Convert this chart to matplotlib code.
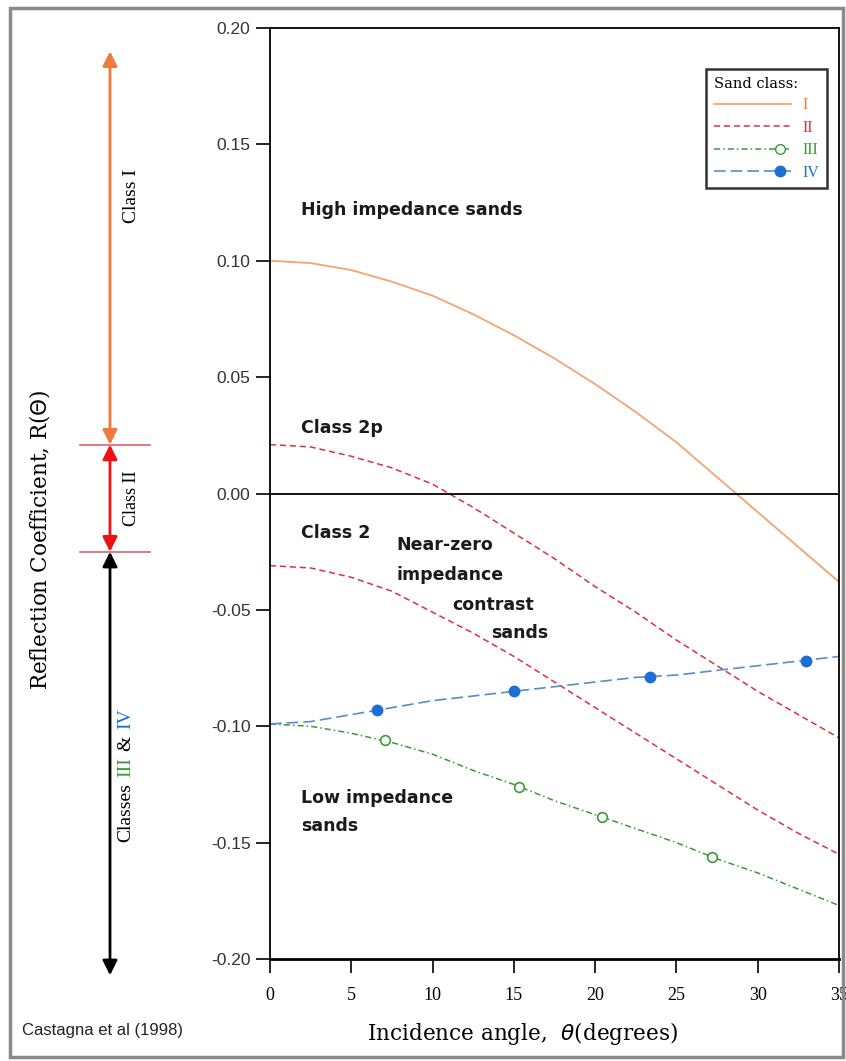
"""
AVO sand classes: reflection coefficient vs incidence angle (after Castagna et al, 1998)
"""
import numpy as np
import matplotlib
matplotlib.use('Agg')
import matplotlib.pyplot as plt
import matplotlib.transforms as mtransforms
from matplotlib.legend_handler import HandlerLine2D
from matplotlib.lines import Line2D
from matplotlib.patches import Rectangle

# values
angles = [0, 2.5, 5, 7.5, 10, 12.5, 15, 17.5, 20, 22.5, 25, 27.5, 30, 32.5, 35]
refl_I = [0.100, 0.099, 0.096, 0.091, 0.085, 0.077, 0.068, 0.058, 0.047,
          0.035, 0.022, 0.007, -0.008, -0.023, -0.038]
refl_2p = [0.021, 0.020, 0.016, 0.011, 0.004, -0.006, -0.017, -0.028, -0.040,
           -0.051, -0.063, -0.074, -0.085, -0.095, -0.105]
refl_2 = [-0.031, -0.032, -0.036, -0.042, -0.051, -0.060, -0.070, -0.081, -0.092,
          -0.103, -0.114, -0.125, -0.136, -0.146, -0.155]
refl_III = [-0.099, -0.100, -0.103, -0.107, -0.112, -0.119, -0.125, -0.132, -0.138,
            -0.144, -0.150, -0.157, -0.163, -0.170, -0.177]
refl_IV = [-0.099, -0.098, -0.095, -0.092, -0.089, -0.087, -0.085, -0.083, -0.081,
           -0.079, -0.078, -0.076, -0.074, -0.072, -0.070]

marker_angles_III = [7.1, 15.3, 20.4, 27.2]
marker_refl_III = [-0.106, -0.126, -0.139, -0.156]
marker_angles_IV = [6.6, 15.0, 23.4, 33.0]
marker_refl_IV = [-0.093, -0.085, -0.079, -0.072]

# class ranges shown by the arrows on the left
class_I_range = [0.19, 0.021]
class_II_range = [0.021, -0.025]
class_III_IV_range = [-0.025, -0.207]

x_ticks = [0, 5, 10, 15, 20, 25, 30, 35]
y_ticks = [-0.20, -0.15, -0.10, -0.05, 0.0, 0.05, 0.10, 0.15, 0.20]

legend_labels = ['I', 'II', 'III', 'IV']

ORANGE_LINE = '#F4A373'
ORANGE = '#F07A3A'
RED = '#E0303E'
GREEN = '#3A9A3A'
BLUE_LINE = '#5A8CC8'
BLUE = '#1E6ED8'

SERIF = 'Liberation Serif'
WIDE_SERIF = 'DejaVu Serif'
SANS = 'Liberation Sans'


class EndMarkerHandler(HandlerLine2D):
    """Legend handle with the marker near the right end of the line"""
    def create_artists(self, legend, orig_handle, xdescent, ydescent,
                       width, height, fontsize, trans):
        artists = super().create_artists(legend, orig_handle, xdescent, ydescent,
                                         width, height, fontsize, trans)
        line = artists[0]
        x = line.get_xdata()
        line.set_xdata([x[0], x[0] + 0.86 * (x[-1] - x[0]), x[-1]])
        return artists


fig = plt.figure(figsize=(8.46, 10.61), dpi=100)
ax = fig.add_axes([270 / 846, 1 - 959 / 1061, 569 / 846, 931 / 1061])

# curves
ax.plot(angles, refl_I, color=ORANGE_LINE, lw=1.3)
ax.plot(angles, refl_2p, color=RED, lw=1.1, dashes=(4, 2.5))
ax.plot(angles, refl_2, color=RED, lw=1.1, dashes=(4, 2.5))
ax.plot(angles, refl_III, color=GREEN, lw=1.1, dashes=(4, 2, 1, 2))
ax.plot(marker_angles_III, marker_refl_III, ls='none', marker='o', ms=7,
        mfc='white', mec=GREEN, mew=1.2)
ax.plot(angles, refl_IV, color=BLUE_LINE, lw=1.2, dashes=(7, 3))
ax.plot(marker_angles_IV, marker_refl_IV, ls='none', marker='o', ms=7.5,
        mfc=BLUE, mec=BLUE)

ax.axhline(0, color='black', lw=1.3)

ax.set_xlim(0, 35)
ax.set_ylim(-0.20, 0.20)
ax.set_xticks(x_ticks)
ax.set_xticklabels([str(v) for v in x_ticks], fontfamily=SERIF, fontsize=13)
ax.set_yticks(y_ticks)
ax.set_yticklabels([f'{v:.2f}' for v in y_ticks], fontfamily=SANS, fontsize=12.5,
                   color='#333333')
ax.tick_params(axis='x', direction='out', length=10, width=1.2, pad=10)
ax.tick_params(axis='y', direction='out', length=10, width=1.2, pad=4)
for side in ['left', 'right', 'top', 'bottom']:
    ax.spines[side].set_linewidth(1.3)
ax.spines['bottom'].set_linewidth(2)

ax.set_xlabel('Incidence angle,  $\\theta$(degrees)', fontfamily=WIDE_SERIF, fontsize=15.5)
ax.xaxis.set_label_coords(0.443, -0.065)
ax.set_ylabel('Reflection Coefficient, R($\\Theta$)', fontfamily=WIDE_SERIF, fontsize=15.5)
ax.yaxis.set_label_coords(-0.383, 0.45)

# annotations inside the plot
bold = dict(fontfamily='DejaVu Sans', fontweight='bold', fontsize=12.5,
            color='#1a1a1a', va='center', ha='left')
ax.text(1.9, 0.122, 'High impedance sands', **bold)
ax.text(1.9, 0.028, 'Class 2p', **bold)
ax.text(1.9, -0.017, 'Class 2', **bold)
ax.text(7.8, -0.022, 'Near-zero', **bold)
ax.text(7.8, -0.035, 'impedance', **bold)
ax.text(11.2, -0.048, 'contrast', **bold)
ax.text(13.6, -0.060, 'sands', **bold)
ax.text(1.9, -0.131, 'Low impedance', **bold)
ax.text(1.9, -0.143, 'sands', **bold)

# class arrows on the left, x in axes fraction, y in data
left = mtransforms.blended_transform_factory(ax.transAxes, ax.transData)
x_arrow = (110 - 270) / 569
x_label = (131 - 270) / 569
for rng, col in [(class_I_range, ORANGE), (class_II_range, '#EE1111'),
                 (class_III_IV_range, 'black')]:
    ax.annotate('', xy=(x_arrow, rng[0]), xytext=(x_arrow, rng[1]),
                xycoords=left, textcoords=left, annotation_clip=False,
                arrowprops=dict(arrowstyle='<|-|>', color=col, lw=2,
                                mutation_scale=22, shrinkA=0, shrinkB=0))
for yb in [class_II_range[0], class_II_range[1]]:
    ax.plot([(80 - 270) / 569, (150 - 270) / 569], [yb, yb], color='#E06070',
            lw=1.2, transform=left, clip_on=False)

ax.text(x_label, 0.128, 'Class I', rotation=90, ha='center', va='center',
        fontfamily=SERIF, fontsize=14, transform=left)
ax.text(x_label, -0.002, 'Class II', rotation=90, ha='center', va='center',
        fontfamily=SERIF, fontsize=13, transform=left)

# "Classes III & IV" with coloured numerals
pieces = [('Classes', 'black'), ('III', GREEN), ('&', 'black'), ('IV', BLUE)]
chain = []
for s, c in pieces:
    if not chain:
        t = ax.text(x_label - 0.01, -0.15, s, rotation=90, ha='center', va='bottom',
                    color=c, fontfamily=SERIF, fontsize=14, transform=left)
    else:
        t = ax.annotate(s, xy=(0.5, 1), xycoords=chain[-1], xytext=(0, 4.5),
                        textcoords='offset points', rotation=90, ha='center',
                        va='bottom', color=c, fontfamily=SERIF, fontsize=14)
    chain.append(t)

# legend
handles = [Line2D([], [], color=ORANGE_LINE, lw=1.3),
           Line2D([], [], color=RED, lw=1.1, dashes=(4, 2.5)),
           Line2D([], [], color=GREEN, lw=1.1, dashes=(4, 2, 1, 2), marker='o',
                  ms=7, mfc='white', mec=GREEN),
           Line2D([], [], color=BLUE_LINE, lw=1.2, dashes=(7, 3), marker='o',
                  ms=7.5, mfc=BLUE, mec=BLUE)]
leg = ax.legend(handles, legend_labels, title='Sand class:', loc='upper right',
                bbox_to_anchor=(0.979, 0.956), borderaxespad=0, numpoints=1,
                handlelength=4.8, handletextpad=0.7, labelspacing=0.4,
                borderpad=0.5, fancybox=False, framealpha=1, edgecolor='#333333',
                alignment='left', prop=dict(family=SERIF, size=11.5),
                labelcolor=[ORANGE, RED, GREEN, BLUE],
                handler_map={Line2D: EndMarkerHandler()})
leg.get_title().set_fontfamily(WIDE_SERIF)
leg.get_title().set_fontsize(10.5)
leg.get_frame().set_linewidth(1.8)

fig.text(22 / 846, 1 - 1030 / 1061, 'Castagna et al (1998)', ha='left', va='center',
         fontfamily=SANS, fontsize=12, color='#222222')

# grey frame round the whole picture
fig.add_artist(Rectangle((10 / 846, 4 / 1061), 833 / 846, 1049 / 1061,
                         transform=fig.transFigure, fill=False,
                         edgecolor='#8a8a8a', lw=2.5))

# centre the multi-coloured label on its range
fig.canvas.draw()
r = fig.canvas.get_renderer()
y0 = chain[0].get_window_extent(r).y0
y1 = chain[-1].get_window_extent(r).y1
target = ax.transData.transform((0, -0.121))[1]
shift = target - (y0 + y1) / 2
px = left.transform(chain[0].get_position())
chain[0].set_position(left.inverted().transform((px[0], px[1] + shift)))

fig.savefig('out.png', dpi=100)
